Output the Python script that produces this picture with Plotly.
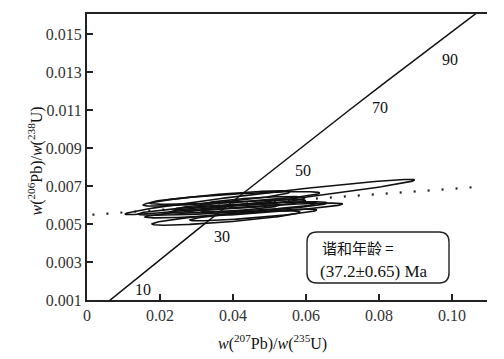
import numpy as np
import plotly.graph_objects as go

# Concordia curve points, x = 207Pb/235U, y = 206Pb/238U
conc_x = [0.00593, 0.00990, 0.01989, 0.02999, 0.04018, 0.05047, 0.06087, 0.07137, 0.08198, 0.09268, 0.10350, 0.10894]
conc_y = [0.000931, 0.001552, 0.003107, 0.004665, 0.006224, 0.007786, 0.009351, 0.010918, 0.012487, 0.014059, 0.015633, 0.016421]

# Age labels on concordia (Ma)
age_text = ["10", "30", "50", "70", "90"]
age_x = [0.0153, 0.0370, 0.0592, 0.0803, 0.0995]
age_y = [0.00153, 0.00432, 0.00784, 0.01111, 0.01368]

# Dotted reference line
dot_x = [0.0015, 0.1085]
dot_y = [0.00549, 0.00697]

# Error ellipses: centre x, centre y, half-width x, half-height y, correlation
ell_cx = [0.0501, 0.0355, 0.0405, 0.0399, 0.0430, 0.0381, 0.0456, 0.0453, 0.0378, 0.0420, 0.0470]
ell_cy = [0.006421, 0.006342, 0.006368, 0.005816, 0.005711, 0.005316, 0.005474, 0.006184, 0.005816, 0.006000, 0.005900]
ell_ax = [0.0397, 0.0201, 0.0233, 0.0259, 0.0271, 0.0203, 0.0174, 0.0144, 0.0151, 0.0180, 0.0160]
ell_ay = [0.000926, 0.000400, 0.000337, 0.000358, 0.000389, 0.000379, 0.000307, 0.000260, 0.000243, 0.000280, 0.000250]
ell_rho = [0.967, 0.85, 0.78, 0.81, 0.88, 0.83, 0.857, 0.707, 0.76, 0.80, 0.75]

x_ticks = [0, 0.02, 0.04, 0.06, 0.08, 0.10]
x_ticklabels = ["0", "0.02", "0.04", "0.06", "0.08", "0.10"]
y_ticks = [0.001, 0.003, 0.005, 0.007, 0.009, 0.011, 0.013, 0.015]
y_ticklabels = ["0.001", "0.003", "0.005", "0.007", "0.009", "0.011", "0.013", "0.015"]

SERIF = "Liberation Serif, Times New Roman, serif"
CJK = "Noto Sans CJK SC"

fig = go.Figure()

# Dotted line
fig.add_trace(go.Scatter(x=dot_x, y=dot_y, mode="lines",
                         line=dict(color="#222", width=2.2, dash="2px,12px"),
                         hoverinfo="skip", showlegend=False))

# Ellipses
t = np.linspace(0, 2 * np.pi, 200)
for cx, cy, ax, ay, r in zip(ell_cx, ell_cy, ell_ax, ell_ay, ell_rho):
    ex = cx + ax * np.cos(t)
    ey = cy + ay * (r * np.cos(t) + np.sqrt(1 - r * r) * np.sin(t))
    fig.add_trace(go.Scatter(x=ex, y=ey, mode="lines",
                             line=dict(color="#111", width=1.6),
                             hoverinfo="skip", showlegend=False))

# Concordia
fig.add_trace(go.Scatter(x=conc_x, y=conc_y, mode="lines",
                         line=dict(color="#111", width=1.5),
                         hoverinfo="skip", showlegend=False))

annotations = []
for txt, ax_, ay_ in zip(age_text, age_x, age_y):
    annotations.append(dict(x=ax_, y=ay_, xref="x", yref="y", text=txt, showarrow=False,
                            font=dict(family=SERIF, size=16, color="#111")))

# Axis titles
annotations.append(dict(x=0.4625, y=-0.150, xref="paper", yref="paper", yanchor="middle",
                        text="<i>w</i>(<sup>207</sup>Pb)/<i>w</i>(<sup>235</sup>U)",
                        showarrow=False, font=dict(family=SERIF, size=16, color="#111")))
annotations.append(dict(x=-0.16, y=0.486, xref="paper", yref="paper", textangle=-90,
                        text="<i>w</i>(<sup>206</sup>Pb)/<i>w</i>(<sup>238</sup>U)",
                        showarrow=False, font=dict(family=SERIF, size=16, color="#111")))

# Box text
annotations.append(dict(x=0.5825, y=(300 - 248) / 286, xref="paper", yref="paper",
                        xanchor="left", yanchor="middle", text="谐和年龄 =", showarrow=False,
                        font=dict(family=CJK, size=15, color="#111")))
annotations.append(dict(x=0.5775, y=(300 - 271) / 286, xref="paper", yref="paper",
                        xanchor="left", yanchor="middle", text="(37.2±0.65) Ma", showarrow=False,
                        font=dict(family=SERIF, size=17, color="#111")))

# Rounded box (paper coords)
x0, x1, y0, y1 = 0.55, 0.905, 0.0594, 0.2378
rx, ry = 0.025, 0.035
path = (f"M {x0+rx},{y0} L {x1-rx},{y0} Q {x1},{y0} {x1},{y0+ry} "
        f"L {x1},{y1-ry} Q {x1},{y1} {x1-rx},{y1} L {x0+rx},{y1} "
        f"Q {x0},{y1} {x0},{y1-ry} L {x0},{y0+ry} Q {x0},{y0} {x0+rx},{y0} Z")

fig.update_layout(
    width=504, height=359,
    margin=dict(l=87, r=17, t=14, b=59),
    paper_bgcolor="white", plot_bgcolor="white",
    showlegend=False,
    annotations=annotations,
    shapes=[dict(type="path", path=path, xref="paper", yref="paper",
                 line=dict(color="#222", width=1.4), fillcolor="white", layer="above")],
    xaxis=dict(range=[0, 0.1096], tickvals=x_ticks, ticktext=x_ticklabels,
               ticks="inside", ticklen=6, tickwidth=1.5, tickcolor="#222",
               showline=True, linecolor="#222", linewidth=2, mirror=True,
               showgrid=False, zeroline=False, automargin=False,
               tickfont=dict(family=SERIF, size=16, color="#333")),
    yaxis=dict(range=[0.001, 0.01605], tickvals=y_ticks, ticktext=y_ticklabels,
               ticks="inside", ticklen=6, tickwidth=1.5, tickcolor="#222",
               showline=True, linecolor="#222", linewidth=2,
               showgrid=False, zeroline=False, automargin=False,
               tickfont=dict(family=SERIF, size=16, color="#333")),
)

fig.write_html("out.html", config={"displayModeBar": False},
               post_script="document.body.style.margin='0';")
